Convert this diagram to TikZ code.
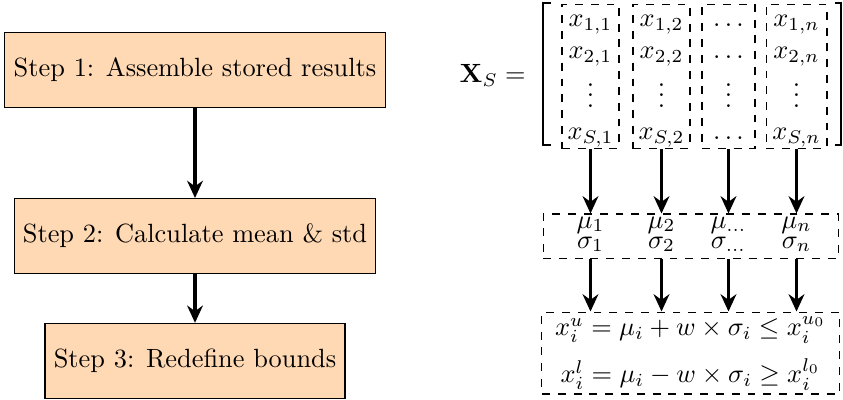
\documentclass[tikz,border=0pt]{standalone}
\usepackage{amsmath}
\usepackage{amssymb}
\usetikzlibrary{arrows.meta,positioning}
\definecolor{pfirsich}{HTML}{FFD9B3}
\tikzset{
  stepbox/.style={draw=black,fill=pfirsich,minimum height=1cm,line width=0.4pt},
  pfeil/.style={-{Stealth[length=2.3mm,width=2.1mm]},line width=1.2pt},
  spalte/.style={draw,dashed,inner sep=0pt},
  kasten/.style={draw,dashed,minimum width=3.933cm,inner sep=0pt},
  klammer/.style={line width=0.5pt},
}
\begin{document}
\begin{tikzpicture}
  \useasboundingbox (0,0) rectangle (11.24,-5.333);
  % left: the three steps
  \node[stepbox] (s1) at (2.6,-0.933) {Step 1: Assemble stored results};
  \node[stepbox,below=1.2cm of s1] (s2) {Step 2: Calculate mean \& std};
  \node[stepbox,below=0.65cm of s2] (s3) {Step 3: Redefine bounds};
  \draw[pfeil] (s1) -- (s2);
  \draw[pfeil] (s2) -- (s3);
  % right: sample matrix
  \node[anchor=east] (xs) at (7.133,-1.0) {$\mathbf{X}_S =$};
  \draw[klammer] (7.347,-0.04) -- (7.24,-0.04) -- (7.24,-1.933) -- (7.347,-1.933);
  \draw[klammer] (11.133,-0.04) -- (11.213,-0.04) -- (11.213,-1.933) -- (11.133,-1.933);
  \foreach \i/\x/\w/\j in {1/7.873/0.76/1,2/8.82/0.76/2,4/10.62/0.813/n}
    \node[spalte,minimum width=\w cm] (col\i) at (\x,-1.02)
      {$\begin{array}{@{}c@{}} x_{1,\j}\\ x_{2,\j}\\ \vdots\\ x_{S,\j} \end{array}$};
  \node[spalte,minimum width=0.707cm] (col3) at (9.713,-1.02)
      {$\begin{array}{@{}c@{}} \ldots\\ \ldots\\ \vdots\\ \ldots \end{array}$};
  % mean and std
  \node[kasten,minimum height=0.587cm] (mubox) at (9.207,-3.147) {};
  \foreach \i/\x/\j in {1/7.873/1,2/8.82/2,3/9.713/\ldots,4/10.62/n}{
    \node[anchor=base] (mu\i) at (\x,-3.04) {$\mu_{\j}$};
    \node[anchor=base] (sig\i) at (\x,-3.307) {$\sigma_{\j}$};
  }
  % new bounds
  \node[kasten,minimum height=1.093cm] (bounds) at (9.207,-4.707)
    {$\begin{array}{c} x_i^u = \mu_i + w \times \sigma_i \leq x_i^{u_0}\\[5pt]
      x_i^l = \mu_i - w \times \sigma_i \geq x_i^{l_0} \end{array}$};
  \foreach \i in {1,...,4}{
    \draw[pfeil] (col\i) -- (col\i |- mubox.north);
    \draw[pfeil] (col\i |- mubox.south) -- (col\i |- bounds.north);
  }
\end{tikzpicture}
\end{document}
